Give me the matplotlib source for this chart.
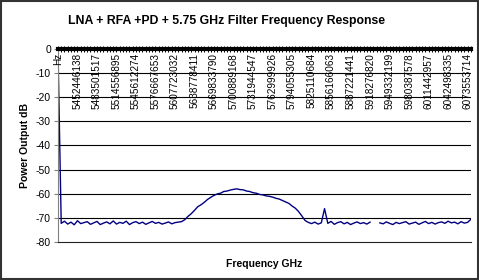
import numpy as np
import matplotlib.pyplot as plt
from matplotlib.patches import Rectangle

plt.rcParams['font.family'] = ['Liberation Sans', 'DejaVu Sans']

# category labels shown along the 0 dB axis (every 6th point)
freq_labels = ['Hz', '5452446138', '5483501517', '5514556895', '5545612274',
               '5576667653', '5607723032', '5638778411', '5669833790',
               '5700889168', '5731944547', '5762999926', '5794055305',
               '5825110684', '5856166063', '5887221441', '5918276820',
               '5949332199', '5980387578', '6011442957', '6042498335',
               '6073553714']
label_step = 6

power = [0.0,
         -72.3, -71.4, -72.6, -71.8, -72.9, -71.2, -72.4, -72.0, -71.6, -72.7,
         -72.1, -71.5, -72.8, -72.2, -71.7, -72.5, -71.3, -72.6, -71.9, -72.3,
         -71.4, -72.8, -72.0, -71.6, -72.4, -71.8, -72.7, -72.1, -71.5, -72.3,
         -71.9, -72.6, -72.2, -71.7, -72.5, -72.0, -71.8,
         -71.6, -70.8, -69.4, -68.3, -66.9, -65.4, -64.6, -63.6, -62.4, -61.5,
         -60.7, -60.1, -59.8, -59.1, -58.9, -58.5, -58.2, -58.0, -58.3, -58.4,
         -58.9, -59.1, -59.6, -59.8, -60.3, -60.5, -60.9, -61.1, -61.4, -61.9,
         -62.2, -62.8, -63.4, -64.0, -65.1, -66.0, -67.4, -69.2, -71.1, -71.9,
         -72.4, -71.8, -72.6, -72.1,
         -66.2,
         -72.3, -71.5, -72.7, -72.0, -71.6, -72.5, -71.9, -72.8, -72.2, -71.7,
         -72.4, -72.0, -72.6, -71.8,
         np.nan, np.nan,
         -72.1, -72.5, -71.7, -72.3, -72.8, -71.9, -72.4, -72.0, -71.6, -72.6,
         -72.2, -71.8, -72.7, -72.1, -71.5, -72.4, -71.9, -72.6, -72.0, -71.7,
         -72.3, -71.4, -72.1, -71.8, -72.5, -71.6, -72.2, -71.9,
         -70.6]

y_ticks = [0, -10, -20, -30, -40, -50, -60, -70, -80]

fig = plt.figure(figsize=(4.79, 2.80), dpi=100)
fig.patches.append(Rectangle((0.002, 0.003), 0.995, 0.994, transform=fig.transFigure,
                             fill=False, edgecolor='#333333', linewidth=1.5))
ax = fig.add_axes([0.121, 0.136, 0.862, 0.689])

x = np.arange(len(power))
ax.plot(x, power, color='#000080', linewidth=1.0)

ax.set_xlim(0, len(power) - 1)
ax.set_ylim(-80, 0)
ax.set_yticks(y_ticks)
ax.set_yticklabels([str(v) for v in y_ticks], fontsize=7.5)
for v in y_ticks[1:-1]:
    ax.axhline(v, color='black', linewidth=0.8, zorder=0)

ax.spines['right'].set_visible(False)
ax.spines['left'].set_color('#808080')
ax.spines['bottom'].set_color('#222222')
ax.spines['top'].set_linewidth(3.0)
ax.tick_params(axis='y', length=3, color='#808080', pad=2)

# category axis sits on the 0 dB line with dense tick marks
ax.xaxis.set_ticks_position('top')
ax.set_xticks(x, minor=True)
ax.set_xticks(np.arange(0, len(freq_labels) * label_step, label_step))
ax.set_xticklabels([])
ax.tick_params(axis='x', which='both', direction='inout', length=4,
               width=0.7, color='black')
for i, lab in enumerate(freq_labels):
    ax.text(i * label_step, 0.978, lab, transform=ax.get_xaxis_transform(),
            rotation=90, ha='center', va='top', fontsize=7.2)

ax.set_ylabel('Power Output dB', fontsize=7.5, fontweight='bold', labelpad=4)
ax.set_xlabel('Frequency GHz', fontsize=7.5, fontweight='bold', labelpad=12)
fig.text(226 / 479, 1 - 21 / 280, 'LNA + RFA +PD + 5.75 GHz Filter Frequency Response',
         ha='center', va='center', fontsize=8.8, fontweight='bold')

fig.savefig('out.png', dpi=100)
